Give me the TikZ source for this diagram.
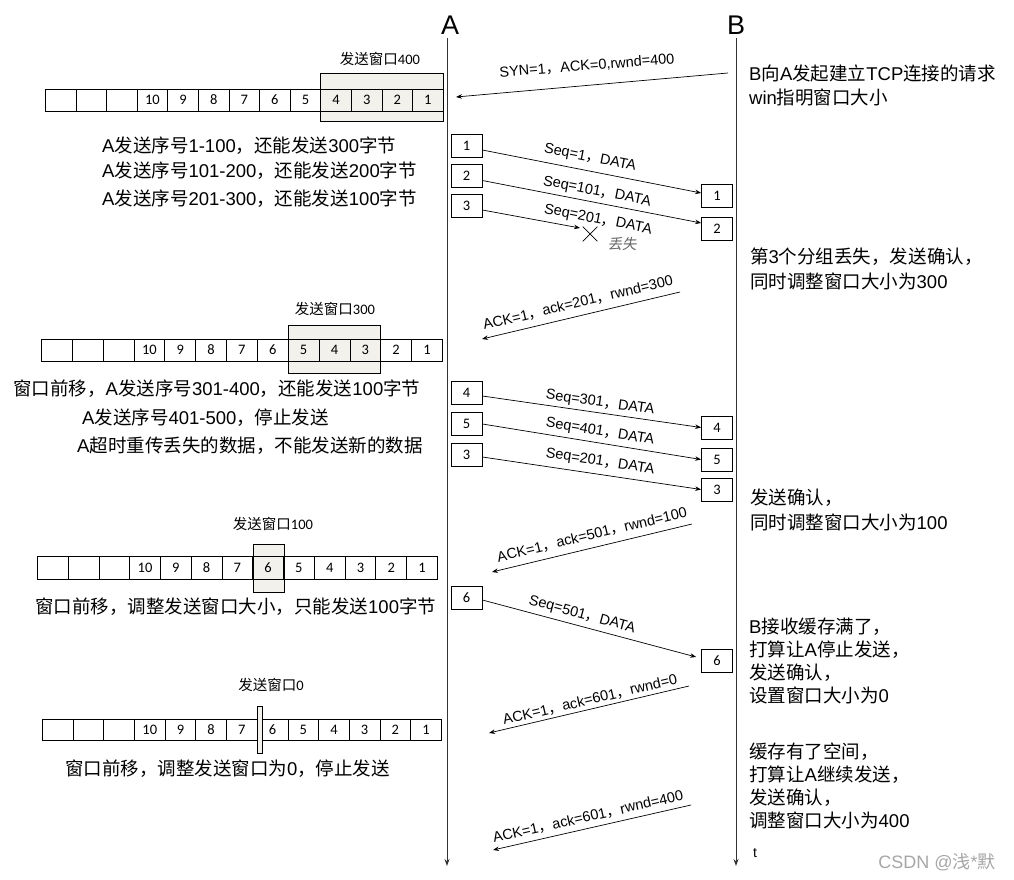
\documentclass[tikz,border=0pt]{standalone}
\usepackage{fontspec}
\setmainfont{Liberation Sans}
\newfontfamily\cjkfont{Noto Sans CJK SC}
\newfontfamily\calfont{Carlito}
\newfontfamily\lostfont{Noto Sans CJK SC}[FakeSlant=0.2]
\usetikzlibrary{arrows.meta,calc,shapes.misc}
\newXeTeXintercharclass\cjkclass
\newcount\cjkcnt
\cjkcnt="4E00
\loop
  \XeTeXcharclass\cjkcnt=\cjkclass
  \advance\cjkcnt by 1
\ifnum\cjkcnt<"A000 \repeat
\XeTeXcharclass"FF0C=\cjkclass
\def\latinsw{\rmfamily}
\def\cjksw{\cjkfont}
\XeTeXinterchartoks 0 \cjkclass = {\cjksw}
\XeTeXinterchartoks 4095 \cjkclass = {\cjksw}
\XeTeXinterchartoks \cjkclass 0 = {\latinsw}
\XeTeXinterchartokenstate=1
\definecolor{winfill}{RGB}{243,241,236}
\tikzset{
  cell/.style={draw, line width=0.75pt, inner sep=0pt, anchor=west, font=\calfont\fontsize{14.5}{14.5}\selectfont},
  win/.style={draw, line width=0.75pt, fill=winfill, inner sep=0pt},
  msgbox/.style={draw, line width=0.75pt, minimum width=31pt, minimum height=23pt, inner sep=0pt, font=\calfont\fontsize{14.5}{14.5}\selectfont},
  lbl/.style={font=\fontsize{14.5}{14.5}\selectfont, inner sep=0pt},
  note/.style={font=\fontsize{18.5}{18.5}\selectfont, anchor=west, inner sep=0pt},
  winlbl/.style={font=\def\latinsw{\calfont}\calfont\fontsize{14.5}{14.5}\selectfont, inner sep=0pt},
  msg/.style={-{Stealth[length=6pt,width=4.5pt]}, line width=0.7pt},
  life/.style={-{Stealth[length=7pt,width=5pt]}, line width=1pt, draw=black!80},
  head/.style={font=\fontsize{27}{27}\selectfont, inner sep=0pt},
}
\begin{document}
\begin{tikzpicture}[x=1pt,y=-1pt]
\useasboundingbox (0,0) rectangle (1014,880);
% headers and lifelines
\node[head] (hA) at (450,25) {A};
\node[head] (hB) at (736,25) {B};
\coordinate (Atop) at (447,38);
\coordinate (Abot) at (447,866);
\coordinate (Btop) at (736,38);
\coordinate (Bbot) at (736,866);
\draw[life] (Atop) -- (Abot);
\draw[life] (Btop) -- (Bbot);

% ---- buffer row 1
\node[win, minimum width=123pt, minimum height=48pt] (w1) at (381.5,97) {};
\foreach \lab [count=\i] in {{},{},{},10,9,8,7,6,5,4,3,2,1}
  \node[cell, minimum width=30.6pt, minimum height=22pt] (ra\i) at ({45+(\i-1)*30.6},100) {\lab};
\node[winlbl] (w1l) at (380,59) {发送窗口400};
% ---- buffer row 2
\node[win, minimum width=92pt, minimum height=48pt] (w2) at (334,349) {};
\foreach \lab [count=\i] in {{},{},{},10,9,8,7,6,5,4,3,2,1}
  \node[cell, minimum width=30.85pt, minimum height=22pt] (rb\i) at ({41+(\i-1)*30.85},350) {\lab};
\node[winlbl] (w2l) at (335,309) {发送窗口300};
% ---- buffer row 3
\node[win, minimum width=31pt, minimum height=48pt] (w3) at (268.5,568) {};
\foreach \lab [count=\i] in {{},{},{},10,9,8,7,6,5,4,3,2,1}
  \node[cell, minimum width=30.77pt, minimum height=23pt] (rc\i) at ({37+(\i-1)*30.77},567.5) {\lab};
\node[winlbl] (w3l) at (273,524) {发送窗口100};
% ---- buffer row 4
\foreach \lab [count=\i] in {{},{},{},10,9,8,7,6,5,4,3,2,1}
  \node[cell, minimum width=30.69pt, minimum height=21pt] (rd\i) at ({42+(\i-1)*30.69},729.5) {\lab};
\node[win, minimum width=5pt, minimum height=47pt] (w4) at (259.5,729.5) {};
\node[winlbl] (w4l) at (271,685) {发送窗口0};

% ---- left notes
\node[note] (n1) at (102,146) {A发送序号1-100，还能发送300字节};
\node[note] (n2) at (102,171) {A发送序号101-200，还能发送200字节};
\node[note] (n3) at (102,199) {A发送序号201-300，还能发送100字节};
\node[note] (n4) at (13,389) {窗口前移，A发送序号301-400，还能发送100字节};
\node[note] (n5) at (82,418) {A发送序号401-500，停止发送};
\node[note] (n6) at (77,446) {A超时重传丢失的数据，不能发送新的数据};
\node[note] (n7) at (35,607) {窗口前移，调整发送窗口大小，只能发送100字节};
\node[note] (n8) at (65,769) {窗口前移，调整发送窗口为0，停止发送};

% ---- right notes
\node[note] (m1) at (749,73) {B向A发起建立TCP连接的请求};
\node[note] (m2) at (749,97) {win指明窗口大小};
\node[note] (m3) at (750,257) {第3个分组丢失，发送确认，};
\node[note] (m4) at (750,281) {同时调整窗口大小为300};
\node[note] (m5) at (750,498) {发送确认，};
\node[note] (m6) at (750,522) {同时调整窗口大小为100};
\node[note] (m7) at (749,627) {B接收缓存满了，};
\node[note] (m8) at (749,650) {打算让A停止发送，};
\node[note] (m9) at (749,673) {发送确认，};
\node[note] (m10) at (749,695) {设置窗口大小为0};
\node[note] (m11) at (749,752) {缓存有了空间，};
\node[note] (m12) at (749,775) {打算让A继续发送，};
\node[note] (m13) at (749,798) {发送确认，};
\node[note] (m14) at (749,820) {调整窗口大小为400};

% ---- SYN
\coordinate (s0) at (728,73);
\coordinate (s1) at (456,97);
\draw[msg] (s0) -- (s1);
\node[lbl, rotate=4.5] (sl) at (587,66) {SYN=1，ACK=0,rwnd=400};

% ---- first burst
\node[msgbox] (a1) at (466.5,145.5) {1};
\node[msgbox] (a2) at (466.5,175.5) {2};
\node[msgbox] (a3) at (466.5,206) {3};
\node[msgbox] (b1) at (717,195.5) {1};
\node[msgbox] (b2) at (717,228.5) {2};
\draw[msg] ($(a1.east)+(0,4.5)$) -- ($(b1.west)+(0,-2.5)$);
\draw[msg] ($(a2.east)+(0,5)$) -- ($(b2.west)+(0,-5.5)$);
\coordinate (lost) at (580,228);
\draw[msg] ($(a3.east)+(0,4)$) -- (lost);
\node[cross out, draw, line width=0.7pt, minimum size=14pt, inner sep=0pt] (xm) at (590,234) {};
\node[font={\def\cjksw{\lostfont}\fontsize{14.5}{14.5}\selectfont}, text=black!60, inner sep=0pt] (xl) at (622,244) {丢失};
\node[lbl, rotate=-11] (l1) at (590,158) {Seq=1，DATA};
\node[lbl, rotate=-11] (l2) at (597,192) {Seq=101，DATA};
\node[lbl, rotate=-11] (l3) at (598,220) {Seq=201，DATA};

% ---- ack 201
\coordinate (k1s) at (680,292);
\coordinate (k1e) at (482,339);
\draw[msg] (k1s) -- (k1e);
\node[lbl, rotate=13.4] (k1l) at (578,303) {ACK=1，ack=201，rwnd=300};

% ---- second burst
\node[msgbox] (a4) at (466.5,393) {4};
\node[msgbox] (a5) at (466.5,424) {5};
\node[msgbox] (a3r) at (466.5,454.5) {3};
\node[msgbox] (b4) at (717,427.5) {4};
\node[msgbox] (b5) at (717,459.5) {5};
\node[msgbox] (b3) at (717,489.5) {3};
\draw[msg] ($(a4.east)+(0,3)$) -- (b4.west);
\draw[msg] (a5.east) -- (b5.west);
\draw[msg] ($(a3r.east)+(0,2.5)$) -- (b3.west);
\node[lbl, rotate=-8] (l4) at (600,403) {Seq=301，DATA};
\node[lbl, rotate=-9.3] (l5) at (600,432) {Seq=401，DATA};
\node[lbl, rotate=-8.6] (l6) at (600,462) {Seq=201，DATA};

% ---- ack 501
\coordinate (k2s) at (692,524);
\coordinate (k2e) at (492,572);
\draw[msg] (k2s) -- (k2e);
\node[lbl, rotate=13.5] (k2l) at (592,535) {ACK=1，ack=501，rwnd=100};

% ---- segment 6
\node[msgbox] (a6) at (466.5,597.5) {6};
\node[msgbox] (b6) at (717,660.5) {6};
\draw[msg] ($(a6.east)+(0,2.5)$) -- ($(b6.west)+(-5,-3.5)$);
\node[lbl, rotate=-15] (l7) at (582,615) {Seq=501，DATA};

% ---- ack rwnd 0
\coordinate (k3s) at (689,686);
\coordinate (k3e) at (489,733);
\draw[msg] (k3s) -- (k3e);
\node[lbl, rotate=13.2] (k3l) at (590,700) {ACK=1，ack=601，rwnd=0};

% ---- ack rwnd 400
\coordinate (k4s) at (691,805);
\coordinate (k4e) at (493,850);
\draw[msg] (k4s) -- (k4e);
\node[lbl, rotate=12.8] (k4l) at (588,817) {ACK=1，ack=601，rwnd=400};

% ---- time and watermark
\node[font=\fontsize{14}{14}\selectfont, inner sep=0pt] (t) at (755,853) {t};
\node[font=\fontsize{18}{18}\selectfont, text=black!35, inner sep=0pt] (wm) at (937,862) {CSDN @浅*默};
\end{tikzpicture}
\end{document}
